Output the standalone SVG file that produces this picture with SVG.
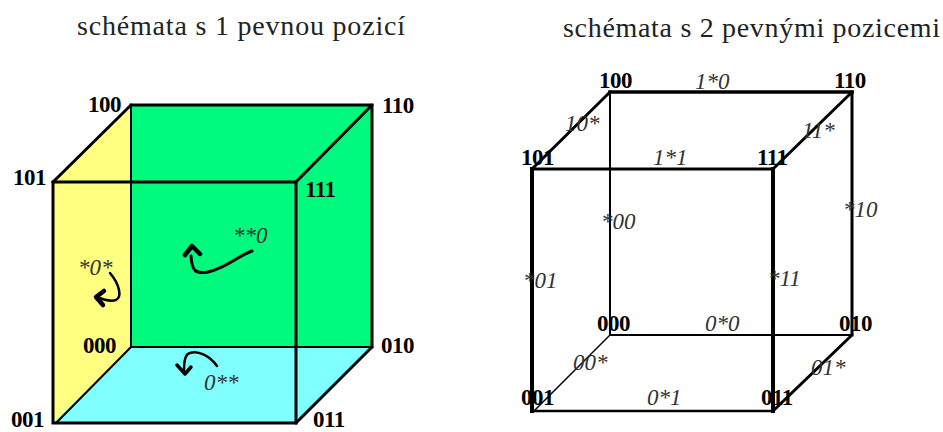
<svg xmlns="http://www.w3.org/2000/svg" width="943" height="432" viewBox="0 0 943 432">
<style>
text{font-family:"Liberation Serif","Times New Roman",serif;fill:#000}
.t{font-size:28px;fill:#222}
.b{font-size:23px;font-weight:bold;letter-spacing:-0.5px}
.i{font-size:23px;font-style:italic;fill:#333}
.e{fill:none;stroke:#000;stroke-linecap:square}
.c{fill:none;stroke:#000;stroke-linecap:round;stroke-linejoin:round}
</style>
<text class="t" x="77" y="35" textLength="328" lengthAdjust="spacing">schémata s 1 pevnou pozicí</text>
<text class="t" x="563" y="37" textLength="377" lengthAdjust="spacing">schémata s 2 pevnými pozicemi</text>
<g id="left-faces">
<polygon points="131,105 372,105 372,347 131,347" fill="#00fa7d"/>
<polygon points="131,105 53,182 53,423 131,347" fill="#ffff80"/>
<polygon points="131,347 372,347 296,423 53,423" fill="#80ffff"/>
</g>
<g id="left-connectors">
<path class="e" stroke-width="2" d="M131,105V347M131,347H372M131,347L56,423"/>
<path class="e" stroke-width="3" d="M131,105H372V347M131,105L53,182M372,105L296,182M372,347L296,423"/>
<path class="e" stroke-width="3" d="M53,182H296V423H53ZM53,182V423"/>
<path class="c" stroke-width="3" d="M252,251C238,256 226,268 208,272C196,274 192,272 191,256"/>
<path class="c" stroke-width="4.500" d="M185,255L192,246L200,254"/>
<path class="c" stroke-width="2.500" d="M110,273C120,285 122,297 116,300C110,302 104,300 97,297"/>
<path class="c" stroke-width="4.500" d="M104,291L96,297L103,305"/>
<path class="c" stroke-width="2.500" d="M217,366C210,356 198,350 190,353C186,354 184,358 184,372"/>
<path class="c" stroke-width="3.500" d="M177,365L185,374L191,367"/>
</g>
<g id="n100"><text class="b" x="88" y="112">100</text></g>
<g id="n110"><text class="b" x="382" y="113">110</text></g>
<g id="n101"><text class="b" x="13" y="185">101</text></g>
<g id="n111"><text class="b" x="305" y="197">111</text></g>
<g id="n000"><text class="b" x="83" y="353">000</text></g>
<g id="n010"><text class="b" x="381" y="353">010</text></g>
<g id="n001"><text class="b" x="11" y="427">001</text></g>
<g id="n011"><text class="b" x="313" y="427">011</text></g>
<g id="f0"><text class="i" x="233" y="243">**0</text></g>
<g id="f1"><text class="i" x="78" y="275">*0*</text></g>
<g id="f2"><text class="i" x="204" y="390">0**</text></g>
<g id="right-connectors">
<path class="e" stroke-width="2" d="M610,92V335M610,335H852"/>
<path class="e" stroke-width="1.500" d="M610,335L534,411"/>
<path class="e" stroke-width="3" d="M610,92L532,169M852,92L773,169M852,335L773,411M852,92V335"/>
<path class="e" stroke-width="3.500" d="M610,92H852"/>
<path class="e" stroke-width="3" d="M532,169H773"/>
<path class="e" stroke-width="2.500" d="M532,411H773"/>
<path class="e" stroke-width="4" d="M532,169V411M773,169V411"/>
</g>
<g id="r100"><text class="b" x="599" y="88">100</text></g>
<g id="r110"><text class="b" x="834" y="88">110</text></g>
<g id="r101"><text class="b" x="521" y="165">101</text></g>
<g id="r111"><text class="b" x="757" y="165">111</text></g>
<g id="r000"><text class="b" x="597" y="331">000</text></g>
<g id="r010"><text class="b" x="839" y="331">010</text></g>
<g id="r001"><text class="b" x="521" y="405">001</text></g>
<g id="r011"><text class="b" x="761" y="405">011</text></g>
<g id="e1"><text class="i" x="695" y="89">1*0</text></g>
<g id="e2"><text class="i" x="565" y="131">10*</text></g>
<g id="e3"><text class="i" x="802" y="138">11*</text></g>
<g id="e4"><text class="i" x="653" y="165">1*1</text></g>
<g id="e5"><text class="i" x="601" y="229">*00</text></g>
<g id="e6"><text class="i" x="843" y="217">*10</text></g>
<g id="e7"><text class="i" x="523" y="288">*01</text></g>
<g id="e8"><text class="i" x="768" y="286">*11</text></g>
<g id="e9"><text class="i" x="705" y="331">0*0</text></g>
<g id="e10"><text class="i" x="573" y="370">00*</text></g>
<g id="e11"><text class="i" x="811" y="375">01*</text></g>
<g id="e12"><text class="i" x="647" y="405">0*1</text></g>
</svg>
